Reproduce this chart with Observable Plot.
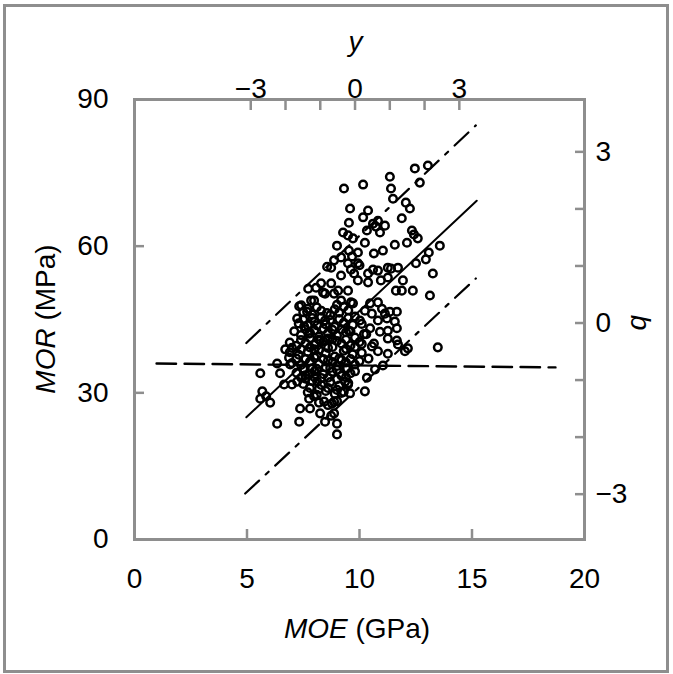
<!DOCTYPE html>
<html>
<head>
<meta charset="utf-8">
<script src="https://cdn.jsdelivr.net/npm/d3@7"></script>
<script src="https://cdn.jsdelivr.net/npm/@observablehq/plot@0.6"></script>
<style>
html,body{margin:0;padding:0;background:#fff;}
#wrap{position:relative;width:673px;height:674px;overflow:hidden;}
#chart{position:absolute;left:0;top:0;}
#border{position:absolute;left:3px;top:4px;width:666px;height:669px;border:3px solid #8e8e8e;box-sizing:border-box;pointer-events:none;}
</style>
</head>
<body>
<div id="wrap"><div id="chart"></div><div id="border"></div></div>
<script>
// ---- data (MOE in GPa, MOR in MPa) ----
const upperBand = [
[9.31,71.8],[10.16,72.6],[11.35,74.2],[11.40,71.8],[11.49,69.7],[12.46,75.9],[13.04,76.5],[12.68,73.0],
[12.06,68.9],[12.24,67.7],[11.88,65.7],[9.58,67.7],[10.38,67.3],[10.16,65.9],[9.53,64.8],[10.82,65.2],
[11.13,64.2],[10.60,64.6],[10.33,63.2],[10.91,62.8],[9.27,62.8],[9.71,61.6],[12.33,63.2],[12.42,62.4],
[12.59,61.6],[12.11,60.7],[11.57,60.3],[10.24,60.7],[13.57,60.1],[9.00,60.1],[9.53,59.1],[9.93,58.7],
[10.64,58.5],[11.04,59.1],[13.08,58.7],[10.73,64.0],[9.49,62.2]
];
const middleBand = [
[12.95,57.3],[12.51,56.5],[8.87,57.1],[8.74,55.6],[9.49,56.5],[9.93,56.5],[9.18,57.7],[9.18,54.0],
[9.76,54.4],[10.38,54.4],[10.82,55.0],[11.26,55.6],[11.71,55.6],[11.40,55.4],[13.26,54.4],[11.93,53.0],
[12.37,50.9],[11.88,50.9],[13.13,49.9],[9.05,50.9],[9.49,50.9],[9.93,53.0],[10.38,52.6],[10.95,53.0],
[11.26,53.6],[11.62,50.9],[7.72,51.3],[8.07,51.5],[8.29,52.4],[8.74,52.4],[8.38,50.5],[8.87,50.3],
[9.18,48.9],[9.62,48.5],[7.41,47.9],[7.85,48.9],[8.56,55.8],[9.67,57.9],[10.0,56.1],[9.62,55.2],
[10.6,55.2],[10.82,48.5],[10.47,48.3],[9.71,48.3],[11.0,47.2],[11.35,46.6],[11.66,46.6],[10.55,46.2],[10.24,46.8]
];
const rightCluster = [
[10.02,44.8],[10.82,44.8],[11.22,45.2],[11.57,44.6],[11.66,43.2],[11.26,42.7],[10.91,42.5],[10.47,43.2],
[9.31,44.2],[9.53,42.7],[11.26,41.1],[11.66,40.7],[10.64,40.1],[13.48,39.3],[12.02,38.5],[12.15,39.1],
[11.71,39.9],[11.26,38.0],[10.82,38.5],[10.55,39.5],[11.04,35.6],[10.69,34.8],[10.33,33.1],[10.24,30.3],
[9.58,29.9],[9.36,32.3],[9.45,35.0],[10.1,40.0],[10.4,37.0],[10.0,36.5],[10.3,42.0],[11.13,46.2]
];
const leftGroup = [
[5.59,34.0],[6.34,36.0],[6.87,37.2],[6.47,34.0],[6.92,35.8],[5.68,30.3],[5.85,29.3],[6.03,28.0],
[5.59,28.8],[6.65,31.7],[7.0,31.7],[6.34,23.7],[7.41,33.1],[7.54,34.8],[7.76,33.7],[7.23,32.3],[8.12,32.3]
];
const lowerGroup = [
[7.36,26.8],[7.80,26.8],[7.32,24.1],[8.25,25.8],[8.47,24.1],[8.87,25.8],[9.0,23.7],[9.0,21.5],
[7.98,29.3],[8.43,28.2],[8.78,27.8],[7.76,28.8],[8.87,28.2],[9.2,30.0],[9.49,31.7],[8.74,25.3]
];
const core = [
[7.5,46.5],[7.9,46.0],[8.3,46.8],[8.7,45.9],[9.1,46.4],[9.5,46.9],[9.8,45.6],
[7.3,44.2],[7.7,43.8],[8.0,44.6],[8.5,44.0],[8.9,43.5],[9.3,44.3],[9.7,43.9],[10.1,44.1],
[7.4,41.8],[7.8,42.3],[8.2,41.5],[8.6,42.2],[9.0,41.7],[9.4,42.4],[9.8,41.3],[10.2,42.0],
[7.2,39.6],[7.6,40.2],[8.0,39.8],[8.4,40.5],[8.8,39.4],[9.2,40.1],[9.6,39.7],[10.0,40.4],
[6.9,38.3],[7.3,37.8],[7.7,38.4],[8.1,37.6],[8.5,38.1],[8.9,37.4],[9.3,38.6],[9.7,37.9],[10.1,38.2],
[7.0,36.1],[7.4,35.7],[7.8,36.4],[8.2,35.9],[8.6,36.6],[9.0,35.5],[9.4,36.2],[9.8,35.8],
[7.2,34.1],[7.6,33.6],[8.0,34.4],[8.4,33.8],[8.8,34.3],[9.2,33.5],[9.6,34.0],
[7.5,31.8],[7.9,32.4],[8.3,31.6],[8.7,32.2],[9.1,31.5],[9.5,32.0],
[7.7,30.1],[8.1,29.6],[8.5,30.4],[8.9,29.8],[9.3,30.2],
[8.2,28.0],[8.6,27.5],[9.0,28.3],
[7.32,47.7],[7.23,45.2],[7.67,46.6],[7.54,43.6],[7.98,48.9],[8.12,43.8],[8.47,44.8],[7.76,42.1],[8.25,40.7],[8.47,50.3],
[6.9,40.3],[7.1,42.6],[6.7,38.9],
[8.0,38.9],[8.8,41.0],[9.1,37.0],[8.3,33.0],[8.7,35.1],[7.9,35.0],[9.4,40.9],[8.55,46.3],[9.0,48.0]
];
const coreFill = [
[7.7,47.2],[8.1,47.5],[8.9,47.1],[9.3,47.6],
[7.5,45.0],[7.9,45.3],[8.3,45.5],[8.7,44.9],[9.1,45.1],[9.5,45.3],
[7.6,43.0],[8.0,42.8],[8.4,43.1],[8.8,42.9],[9.2,43.0],[9.6,42.6],
[7.4,40.8],[7.8,41.2],[8.2,40.9],[8.6,41.1],[9.0,40.6],
[7.0,39.2],[7.4,38.9],[7.8,39.3],[8.2,38.8],[8.6,39.2],[9.4,39.0],[9.8,39.4],
[7.2,37.0],[7.6,36.9],[8.0,37.2],[8.4,36.9],[8.8,36.3],[9.2,36.7],[9.6,36.9],
[7.5,35.0],[8.1,34.9],[8.5,35.2],[9.0,34.7],[9.4,35.0],[9.8,34.4],
[7.6,32.9],[8.0,33.2],[8.6,33.1],[9.0,32.8],[9.4,33.2],
[7.8,31.0],[8.2,30.8],[8.6,31.0],[9.0,30.6]
];

// fitted lines (MOE, MOR)
const regression = [[4.97,25.0],[15.21,69.3]];
const upperLimit = [[4.97,40.2],[15.17,84.7]];
const lowerLimit = [[4.92,9.4],[15.17,53.4]];
const flatLine = [[0.98,36.0],[18.71,35.2]];

// axes
const moeTicks = [0,5,10,15,20];
const morTicks = [0,30,60,90];
const yTicks = [-3,-2,-1,0,1,2,3];
const yLabels = [-3,0,3];
const yOrigin = 9.535, yUnit = 1.545;   // top axis y -> MOE
const bTicks = [-3,-2,-1,0,1,2,3];
const bLabels = [-3,0,3];
const bOrigin = 44.28, bUnit = 11.67;   // right axis b -> MOR

const fmtNum = v => v < 0 ? "\u2212" + (-v) : String(v);
const points = [...upperBand, ...middleBand, ...rightCluster, ...leftGroup, ...lowerGroup, ...core, ...coreFill];

const gray = "#8e8e8e";
const fontFamily = "'Liberation Sans', Arial, Helvetica, sans-serif";

const plot = Plot.plot({
  width: 673, height: 674,
  marginLeft: 134, marginRight: 89, marginTop: 99, marginBottom: 135,
  x: {domain: [0, 20]},
  y: {domain: [0, 90]},
  style: {fontFamily, fontSize: "28px", background: "transparent", color: "black", overflow: "visible"},
  marks: [
    Plot.axisX({anchor: "bottom", ticks: moeTicks, tickSize: -10, tickPadding: 39, stroke: gray, strokeWidth: 2.5, fill: "black", tickFormat: d => fmtNum(d), label: null}),
    Plot.axisY({anchor: "left", ticks: morTicks, tickSize: -10, tickPadding: 36, stroke: gray, strokeWidth: 2.5, fill: "black", tickFormat: d => fmtNum(d), label: null}),
    Plot.axisX({anchor: "top", ticks: yTicks.map(v => yOrigin + yUnit * v), tickSize: -10, tickPadding: 12, dx: 6, stroke: gray, strokeWidth: 2.5, fill: "black",
      tickFormat: d => { const v = Math.round((d - yOrigin) / yUnit); return yLabels.includes(v) ? fmtNum(v) : ""; }, label: null}),
    Plot.axisY({anchor: "right", ticks: bTicks.map(v => bOrigin + bUnit * v), tickSize: -10, tickPadding: 21, stroke: gray, strokeWidth: 2.5, fill: "black",
      tickFormat: d => { const v = Math.round((d - bOrigin) / bUnit); return bLabels.includes(v) ? fmtNum(v) : ""; }, label: null}),
    Plot.frame({stroke: gray, strokeWidth: 3}),
    Plot.line(flatLine, {x: d => d[0], y: d => d[1], stroke: "black", strokeWidth: 2.4, strokeDasharray: "19.5,8.5"}),
    Plot.line(upperLimit, {x: d => d[0], y: d => d[1], stroke: "black", strokeWidth: 2.2, strokeDasharray: "19,9,4,9"}),
    Plot.line(lowerLimit, {x: d => d[0], y: d => d[1], stroke: "black", strokeWidth: 2.2, strokeDasharray: "19,9,4,9"}),
    Plot.line(regression, {x: d => d[0], y: d => d[1], stroke: "black", strokeWidth: 2}),
    Plot.dot(points, {x: d => d[0], y: d => d[1], r: 3.8, stroke: "black", strokeWidth: 2.5, fill: "none"})
  ]
});

const svg = d3.select(plot);
const sx = plot.scale("x"), sy = plot.scale("y");
function addLabel(x, y, rotate, parts) {
  const t = svg.append("text")
    .attr("transform", `translate(${x},${y}) rotate(${rotate})`)
    .attr("text-anchor", "middle")
    .attr("dominant-baseline", "central")
    .attr("font-size", 28)
    .attr("font-family", fontFamily)
    .attr("fill", "black");
  parts.forEach(([s, it]) => t.append("tspan").text(s).attr("font-style", it ? "italic" : "normal"));
}
addLabel(sx.apply(10) - 2, 628, 0, [["MOE", true], [" (GPa)", false]]);
addLabel(45, sy.apply(45), -90, [["MOR", true], [" (MPa)", false]]);
addLabel(sx.apply(yOrigin) + 7, 41, 0, [["y", true]]);
addLabel(641, sy.apply(bOrigin), 90, [["b", true]]);

document.getElementById("chart").appendChild(plot);
</script>
</body>
</html>
